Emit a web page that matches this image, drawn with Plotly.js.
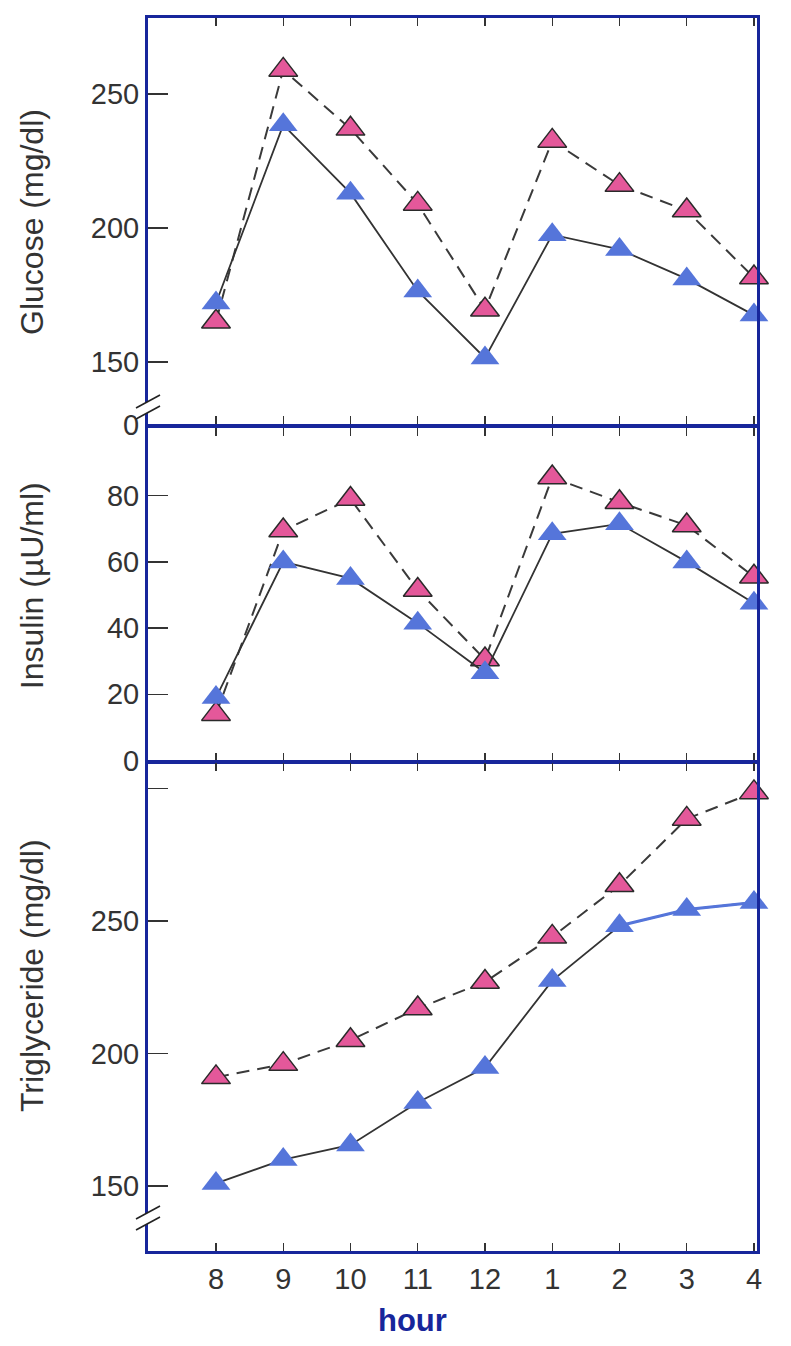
<!DOCTYPE html>
<html>
<head>
<meta charset="utf-8">
<script src="https://cdn.plot.ly/plotly-3.0.1.min.js"></script>
<style>html,body{margin:0;padding:0;background:#fff;}#chart{width:791px;height:1346px;}</style>
</head>
<body>
<div id="chart"></div>
<script>
// ---- data ----
const hours = ['8', '9', '10', '11', '12', '1', '2', '3', '4'];

// pink triangles, dashed line
const glucoseA = [165, 259, 237, 209, 169.5, 232.5, 216, 206.5, 181.5];
// blue triangles, solid line
const glucoseB = [172, 238.5, 213, 176.5, 151.5, 197.5, 192, 181, 167.5];

const insulinA = [14, 69.5, 79, 51.5, 30.5, 85.5, 78, 71, 55.5];
const insulinB = [19, 60, 55, 41.5, 26.5, 68.5, 71.5, 60, 47.5];

const trigA = [191, 196, 205, 217, 227, 244, 263.5, 288.5, 298.5];
const trigB = [151, 160, 165.5, 181.5, 194.7, 227.5, 248.2, 254.3, 257];

const glucoseTicks = [126.68, 150, 200, 250];
const glucoseTickText = ['0', '150', '200', '250'];
const insulinTicks = [0, 20, 40, 60, 80];
const insulinTickText = ['0', '20', '40', '60', '80'];
const trigTicks = [150, 200, 250, 300];
const trigTickText = ['150', '200', '250', ''];

// ---- styles ----
const FONT = 'Liberation Sans, Arial, Helvetica, sans-serif';
const FRAME = '#17269b';
const INK = '#333333';
const PINK = '#e4589a';
const BLUE = '#5575da';

function seriesA(y, xa, ya) {
  return {
    x: hours, y: y, xaxis: xa, yaxis: ya, type: 'scatter', mode: 'lines+markers',
    name: 'A', showlegend: false, cliponaxis: false,
    line: {color: '#3a3a3a', width: 2, dash: '13px,8px'},
    marker: {symbol: 'triangle-up', size: 25, color: PINK, line: {color: '#2a2a2a', width: 1.5}}
  };
}
function seriesB(y, xa, ya) {
  return {
    x: hours, y: y, xaxis: xa, yaxis: ya, type: 'scatter', mode: 'lines+markers',
    name: 'B', showlegend: false, cliponaxis: false,
    line: {color: '#333333', width: 1.8},
    marker: {symbol: 'triangle-up', size: 25, color: BLUE, line: {width: 0}}
  };
}
// late triglyceride segment of series B is drawn in blue ink in the reference
const trigBTail = {
  x: hours.slice(6), y: trigB.slice(6), xaxis: 'x3', yaxis: 'y3', type: 'scatter',
  mode: 'lines', showlegend: false, cliponaxis: false,
  line: {color: BLUE, width: 3}
};

const data = [
  seriesA(glucoseA, 'x', 'y'), seriesB(glucoseB, 'x', 'y'),
  seriesA(insulinA, 'x2', 'y2'), seriesB(insulinB, 'x2', 'y2'),
  seriesA(trigA, 'x3', 'y3'), seriesB(trigB, 'x3', 'y3'), trigBTail
];

const xRange = [-1.011, 8.045];
function xAxis(anchor, labels) {
  return {
    anchor: anchor, domain: [0, 1], type: 'category', range: xRange,
    showline: true, linecolor: FRAME, linewidth: 3, mirror: 'ticks',
    ticks: 'inside', ticklen: 8, tickcolor: INK, tickwidth: 1.3,
    showgrid: false, zeroline: false, showticklabels: labels,
    tickfont: {family: FONT, size: 29, color: INK}
  };
}
function yAxis(anchor, domain, range, vals, text) {
  return {
    anchor: anchor, domain: domain, range: range,
    tickmode: 'array', tickvals: vals, ticktext: text,
    showline: true, linecolor: FRAME, linewidth: 3, mirror: true,
    ticks: 'inside', ticklen: 20, tickcolor: INK, tickwidth: 1.5,
    showgrid: false, zeroline: false,
    tickfont: {family: FONT, size: 29, color: INK}
  };
}

// axis-break marks "//" on the left frame, placed in paper space
function breakMark(yPaper) {
  const common = {xref: 'paper', yref: 'paper', xsizemode: 'pixel', ysizemode: 'pixel',
                  xanchor: 0, yanchor: yPaper, layer: 'above'};
  return [
    Object.assign({type: 'path', path: 'M-12,-2 L12,11 L12,0 L-12,-13 Z',
                   fillcolor: '#ffffff', line: {width: 0}}, common),
    Object.assign({type: 'line', x0: -12, y0: -2, x1: 12, y1: 11,
                   line: {color: '#222', width: 1.6}}, common),
    Object.assign({type: 'line', x0: -12, y0: -13, x1: 12, y1: 0,
                   line: {color: '#222', width: 1.6}}, common)
  ];
}

function yTitle(text, y) {
  return {text: text, xref: 'paper', yref: 'paper', x: -0.1905, y: y,
          xanchor: 'center', yanchor: 'middle', textangle: -90, showarrow: false,
          font: {family: FONT, size: 32, color: INK}};
}

const layout = {
  width: 791, height: 1346,
  margin: {l: 148, r: 34, t: 18, b: 95},
  paper_bgcolor: '#ffffff', plot_bgcolor: '#ffffff',
  showlegend: false,
  font: {family: FONT, color: INK},
  xaxis: xAxis('y', false),
  xaxis2: xAxis('y2', false),
  xaxis3: xAxis('y3', true),
  yaxis: yAxis('x', [0.67032, 1], [126.68, 278.36], glucoseTicks, glucoseTickText),
  yaxis2: yAxis('x2', [0.39781, 0.66788], [0, 100.6], insulinTicks, insulinTickText),
  yaxis3: yAxis('x3', [0, 0.39538], [125.5, 309.4], trigTicks, trigTickText),
  shapes: [].concat(breakMark(0.6853), breakMark(0.02757)),
  annotations: [
    yTitle('Glucose (mg/dl)', 0.8346),
    yTitle('Insulin (\u00b5U/ml)', 0.540),
    yTitle('Triglyceride (mg/dl)', 0.2238),
    {text: '<b>hour</b>', xref: 'paper', yref: 'paper', x: 0.435, y: -0.056,
     xanchor: 'center', yanchor: 'middle', showarrow: false,
     font: {family: FONT, size: 31, color: FRAME}}
  ]
};

Plotly.newPlot('chart', data, layout, {staticPlot: true, displayModeBar: false});
</script>
</body>
</html>
